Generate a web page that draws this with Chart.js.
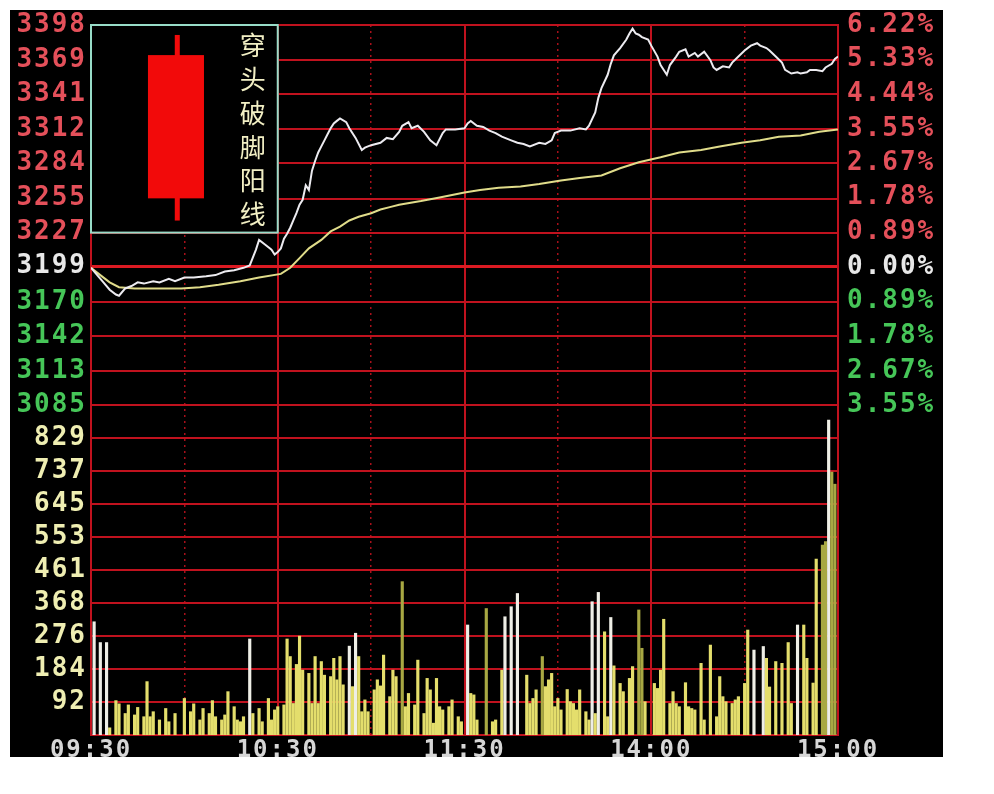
<!DOCTYPE html>
<html>
<head>
<meta charset="utf-8">
<style>
  html, body { margin: 0; padding: 0; background: #fff; }
  #wrap { width: 994px; height: 794px; }
</style>
<script src="https://cdn.jsdelivr.net/npm/chart.js@4.4.1/dist/chart.umd.min.js"></script>
</head>
<body>
<div id="wrap"><canvas id="c" width="994" height="794"></canvas></div>
<script>
"use strict";
// x = trading minutes since 09:30 (lunch break removed, 0..240)
var xTicks = [0, 60, 120, 180, 240];
var xLabels = ["09:30", "10:30", "11:30", "14:00", "15:00"];
var halfHours = [30, 90, 150, 210];

var prevClose = 3199;
var priceTicks = [3398, 3369, 3341, 3312, 3284, 3255, 3227, 3199, 3170, 3142, 3113, 3085];
var pctTicks = [6.22, 5.33, 4.44, 3.55, 2.67, 1.78, 0.89, 0, -0.89, -1.78, -2.67, -3.55];
var volTicks = [829, 737, 645, 553, 461, 368, 276, 184, 92];
var volMax = 921;

var insetTitle = "穿头破脚阳线";

var priceTimes = [0, 2, 4, 6, 8, 9, 11, 13, 15, 17, 20, 22, 25, 27, 30, 33, 37, 40, 43, 46,
    49, 51, 53, 54, 56, 58, 59, 60, 61, 62, 63, 64, 65, 66, 67, 68, 69, 70, 71, 72,
    73, 74, 75, 76, 77, 78, 79, 80, 82, 83, 85, 87, 88, 90, 93, 95, 97, 99, 100, 102,
    103, 105, 107, 109, 111, 113, 114, 117, 120, 121, 122, 124, 126, 128, 130, 132, 135, 137, 139, 141,
    144, 146, 148, 149, 151, 154, 157, 159, 160, 162, 163, 164, 166, 167, 168, 170, 172, 173, 174, 175,
    176, 177, 179, 180, 182, 183, 185, 186, 188, 189, 191, 192, 194, 195, 197, 199, 200, 201, 203, 205,
    206, 208, 210, 212, 214, 215, 217, 218, 220, 222, 223, 225, 227, 228, 230, 231, 233, 235, 236, 238,
    239, 240];
var prices = [3198, 3192, 3186, 3180, 3176, 3175, 3181, 3183, 3186, 3185, 3187, 3186, 3189, 3187, 3190, 3190, 3191, 3192, 3195, 3196,
    3198, 3200, 3213, 3221, 3217, 3213, 3209, 3211, 3214, 3222, 3226, 3231, 3237, 3243, 3250, 3254, 3266, 3262, 3278, 3286,
    3293, 3298, 3303, 3308, 3313, 3317, 3319, 3321, 3318, 3313, 3305, 3295, 3297, 3299, 3301, 3305, 3304, 3310, 3315, 3318,
    3313, 3315, 3310, 3303, 3299, 3309, 3312, 3312, 3313, 3317, 3319, 3315, 3314, 3311, 3309, 3306, 3303, 3301, 3300, 3298,
    3301, 3300, 3303, 3309, 3311, 3311, 3313, 3312, 3315, 3326, 3338, 3346, 3357, 3366, 3373, 3379, 3386, 3391, 3395, 3391,
    3390, 3388, 3386, 3381, 3372, 3365, 3357, 3365, 3372, 3376, 3378, 3372, 3375, 3372, 3376, 3369, 3363, 3361, 3364, 3363,
    3367, 3372, 3377, 3381, 3383, 3381, 3379, 3377, 3372, 3367, 3361, 3358, 3359, 3358, 3359, 3361, 3361, 3360, 3363, 3366,
    3370, 3372];

var avgTimes = [0, 3, 6, 9, 14, 22, 29, 35, 41, 48, 54, 61, 64, 67, 70, 74, 77, 80, 83, 86,
    90, 93, 96, 99, 106, 112, 120, 125, 131, 138, 144, 151, 157, 164, 170, 176, 183, 189, 196, 202,
    209, 215, 221, 228, 234, 240];
var avgPrices = [3198, 3192, 3186, 3182, 3181, 3181, 3181, 3182, 3184, 3187, 3190, 3193, 3198, 3206, 3214, 3221, 3228, 3232, 3237, 3240,
    3243, 3246, 3248, 3250, 3253, 3256, 3260, 3262, 3264, 3265, 3267, 3270, 3272, 3274, 3280, 3285, 3289, 3293, 3295, 3298,
    3301, 3303, 3306, 3307, 3310, 3312];

var volTimes = [1, 3, 5, 6, 8, 9, 11, 12, 14, 15, 17, 18, 19, 20, 22, 24, 25, 27, 30, 32,
    33, 35, 36, 38, 39, 40, 42, 43, 44, 46, 47, 48, 49, 51, 52, 54, 55, 57, 58, 59,
    60, 62, 63, 64, 65, 66, 67, 68, 70, 71, 72, 73, 74, 75, 77, 78, 79, 80, 81, 83,
    84, 85, 86, 87, 88, 89, 91, 92, 93, 94, 96, 97, 98, 100, 101, 102, 104, 105, 107, 108,
    109, 110, 111, 112, 113, 115, 116, 118, 119, 121, 122, 123, 124, 127, 129, 130, 132, 133, 135, 137,
    140, 141, 142, 143, 145, 146, 147, 148, 149, 150, 151, 153, 154, 155, 156, 157, 159, 160, 161, 162,
    163, 165, 166, 167, 168, 170, 171, 173, 174, 176, 177, 178, 181, 182, 183, 184, 186, 187, 188, 189,
    191, 192, 193, 194, 196, 197, 199, 201, 202, 203, 204, 206, 207, 208, 210, 211, 213, 216, 217, 218,
    220, 222, 224, 225, 227, 229, 230, 232, 233, 235, 236, 237, 238, 239];
var vols = [316, 258, 258, 20, 96, 87, 60, 84, 56, 77, 51, 149, 51, 65, 42, 74, 37, 60, 102, 65,
    87, 42, 74, 60, 96, 51, 42, 56, 121, 79, 42, 37, 51, 268, 60, 74, 37, 102, 42, 70,
    79, 84, 268, 219, 88, 197, 276, 181, 172, 88, 219, 88, 205, 167, 163, 214, 154, 219, 140, 248,
    135, 284, 219, 65, 98, 65, 126, 154, 137, 223, 107, 181, 163, 428, 79, 116, 84, 209, 60, 158,
    126, 33, 158, 79, 70, 79, 98, 51, 37, 307, 116, 112, 42, 353, 37, 42, 181, 330, 358, 395,
    167, 88, 102, 126, 219, 135, 154, 172, 79, 102, 70, 127, 93, 88, 70, 126, 65, 42, 372, 60,
    398, 288, 51, 328, 193, 144, 121, 158, 191, 349, 242, 93, 144, 130, 181, 323, 88, 121, 88, 79,
    146, 79, 74, 70, 200, 42, 251, 51, 163, 107, 93, 88, 98, 107, 144, 293, 237, 247, 214, 134,
    205, 200, 258, 88, 307, 307, 214, 145, 491, 530, 540, 879, 734, 700];
var whiteBars = [1, 3, 5, 51, 83, 85, 121, 133, 135, 137, 161, 163, 167, 213, 216, 227, 237];
var oliveBars = [100, 127, 145, 176, 177, 235, 236, 238, 239];

var gridRed = "#c0121e";
var red = "#e4505a", green = "#46c658", white = "#e8e8e8", volText = "#efeeb2";
var labelFont = { family: "DejaVu Sans Mono", size: 26, weight: "bold" };

function toXY(xs, ys) {
    return xs.map(function (t, i) { return { x: t, y: ys[i] }; });
}
function fixedTicks(values) {
    return function (scale) {
        scale.ticks = values.slice().sort(function (a, b) { return a - b; })
            .map(function (v) { return { value: v }; });
    };
}
function upDownColor(base) {
    return function (c) {
        var v = c.tick.value;
        return v > base ? red : (v < base ? green : white);
    };
}
function plain(v) { return String(v); }

// wide terminal-style digits
var spacing = {
    id: "spacing",
    beforeUpdate: function (chart) { chart.ctx.letterSpacing = "2px"; },
    beforeDraw: function (chart) { chart.ctx.letterSpacing = "2px"; }
};

var backdrop = {
    id: "backdrop",
    beforeDraw: function (chart) {
        var ctx = chart.ctx;
        ctx.save();
        ctx.fillStyle = "#ffffff";
        ctx.fillRect(0, 0, chart.width, chart.height);
        ctx.fillStyle = "#000000";
        ctx.fillRect(10, 10, 933, 747);
        ctx.restore();
    }
};

// the candlestick picture in the top-left corner, sized on the grid
var inset = {
    id: "inset",
    beforeDatasetsDraw: function (chart) {
        var ctx = chart.ctx;
        var x = chart.scales.x, p = chart.scales.price;
        var l = x.getPixelForValue(0), r = x.getPixelForValue(60);
        var t = p.getPixelForValue(priceTicks[0]), b = p.getPixelForValue(3227);
        var w = r - l, h = b - t;
        ctx.save();
        ctx.fillStyle = "#000";
        ctx.fillRect(l, t, w, h);
        ctx.strokeStyle = "#98dcc8";
        ctx.lineWidth = 2;
        ctx.strokeRect(l, t, w, h);
        ctx.fillStyle = "#f20a0a";
        ctx.fillRect(l + w * 0.462 - 2.5, t + h * 0.048, 5, h * 0.894);
        ctx.fillRect(l + w * 0.305, t + h * 0.145, w * 0.3, h * 0.69);
        ctx.fillStyle = "#f2efc4";
        ctx.letterSpacing = "0px";
        ctx.font = "26px 'Noto Sans CJK SC'";
        ctx.textAlign = "center";
        ctx.textBaseline = "middle";
        for (var i = 0; i < insetTitle.length; i++) {
            ctx.fillText(insetTitle[i], l + w * 0.866, t + h * (0.097 + i * 0.163));
        }
        ctx.restore();
    }
};

new Chart(document.getElementById("c"), {
    type: "bar",
    data: {
        datasets: [
            {
                type: "line", data: toXY(priceTimes, prices), yAxisID: "price",
                borderColor: "#ecebf0", borderWidth: 2, pointRadius: 0, order: 1
            },
            {
                type: "line", data: toXY(avgTimes, avgPrices), yAxisID: "price",
                borderColor: "#e0dc8a", borderWidth: 2, pointRadius: 0, order: 2
            },
            {
                type: "bar", data: toXY(volTimes, vols), yAxisID: "vol",
                barThickness: 2.5, order: 3,
                backgroundColor: function (c) {
                    var t = volTimes[c.dataIndex];
                    if (whiteBars.indexOf(t) >= 0) return "#eeeee6";
                    if (oliveBars.indexOf(t) >= 0) return "#a8a843";
                    return "#e4de6c";
                }
            }
        ]
    },
    options: {
        responsive: false,
        animation: false,
        layout: { padding: { left: 10, right: 51, top: 25, bottom: 37 } },
        plugins: { legend: { display: false }, tooltip: { enabled: false } },
        scales: {
            x: {
                type: "linear", min: 0, max: 240, position: "bottom", offset: false,
                afterBuildTicks: fixedTicks(xTicks),
                afterFit: function (s) { s.height = 22; },
                grid: { color: gridRed, lineWidth: 2, drawTicks: false, offset: false },
                border: { display: true, color: gridRed, width: 2 },
                ticks: {
                    autoSkip: false, maxRotation: 0, padding: 1, color: "#d6d6d6",
                    font: { family: "DejaVu Sans Mono", size: 24, weight: "bold" },
                    callback: function (v, i) { return xLabels[i]; }
                }
            },
            xHalf: {
                type: "linear", min: 0, max: 240, position: "bottom", offset: false,
                afterBuildTicks: fixedTicks(halfHours),
                afterFit: function (s) { s.height = 0; },
                grid: { color: "#a8101a", lineWidth: 1.5, drawTicks: false, offset: false },
                border: { display: false, dash: [2, 4] },
                ticks: { display: false }
            },
            vol: {
                type: "linear", position: "left", stack: "left", stackWeight: 330,
                min: 0, max: volMax,
                afterBuildTicks: fixedTicks(volTicks),
                afterFit: function (s) { s.width = 81; },
                grid: { color: gridRed, lineWidth: 2, drawTicks: false },
                border: { display: true, color: gridRed, width: 2 },
                ticks: { autoSkip: false, padding: 4, color: volText, font: labelFont, callback: plain }
            },
            price: {
                type: "linear", position: "left", stack: "left", stackWeight: 380,
                min: priceTicks[priceTicks.length - 1], max: priceTicks[0],
                afterBuildTicks: fixedTicks(priceTicks),
                afterFit: function (s) { s.width = 81; },
                grid: {
                    drawTicks: false,
                    color: function (c) { return c.tick && c.tick.value === prevClose ? "#dc1a22" : gridRed; },
                    lineWidth: function (c) { return c.tick && c.tick.value === prevClose ? 3 : 2; }
                },
                border: { display: true, color: gridRed, width: 2 },
                ticks: { autoSkip: false, padding: 4, color: upDownColor(prevClose), font: labelFont, callback: plain }
            },
            pct: {
                type: "linear", position: "right", stack: "right", stackWeight: 380,
                min: pctTicks[pctTicks.length - 1], max: pctTicks[0],
                afterBuildTicks: fixedTicks(pctTicks),
                afterFit: function (s) { s.width = 105; },
                grid: { display: false, drawTicks: false },
                border: { display: true, color: gridRed, width: 2 },
                ticks: {
                    autoSkip: false, padding: 9, color: upDownColor(0), font: labelFont,
                    callback: function (v) { return Math.abs(v).toFixed(2) + "%"; }
                }
            },
            volR: {
                type: "linear", position: "right", stack: "right", stackWeight: 330,
                min: 0, max: volMax,
                afterFit: function (s) { s.width = 105; },
                grid: { display: false, drawTicks: false },
                border: { display: true, color: gridRed, width: 2 },
                ticks: { display: false }
            }
        }
    },
    plugins: [spacing, backdrop, inset]
});
</script>
</body>
</html>
